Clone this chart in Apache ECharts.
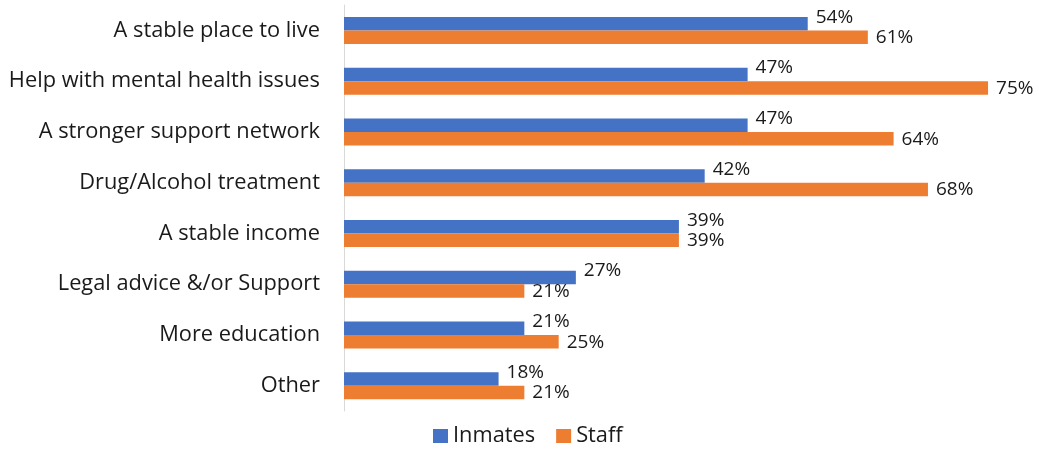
<!DOCTYPE html>
<html>
<head>
<meta charset="utf-8">
<script src="https://cdn.jsdelivr.net/npm/echarts@6/dist/echarts.min.js"></script>
<style>html,body{margin:0;padding:0;background:#fff}#c{width:1039px;height:449px}</style>
</head>
<body>
<div id="c"></div>
<script>
const categories = ["A stable place to live","Help with mental health issues","A stronger support network","Drug/Alcohol treatment","A stable income","Legal advice &/or Support","More education","Other"];
const inmates = [54,47,47,42,39,27,21,18];
const staff = [61,75,64,68,39,21,25,21];
const seriesNames = ["Inmates","Staff"];

const chart = echarts.init(document.getElementById('c'), null, {renderer:'canvas'});
const font = '"Open Sans", sans-serif';
const lbl = (dy) => ({show:true, position:'right', distance:8, offset:[0,dy], formatter:'{c}%', color:'#1a1a1a', fontSize:19, fontFamily:font});
chart.setOption({
  animation:false,
  grid:{left:344, right:8, top:5, bottom:38, containLabel:false},
  xAxis:{type:'value', min:0, max:80, show:false, splitLine:{show:false}},
  yAxis:{type:'category', data:categories, inverse:true,
    axisLine:{show:true, lineStyle:{color:'#d9d9d9', width:1}},
    axisTick:{show:false},
    axisLabel:{margin:24, color:'#1a1a1a', fontSize:21.8, fontFamily:font}},
  legend:{top:420, left:428, itemWidth:15, itemHeight:14, itemGap:21,
    icon:'rect', textStyle:{fontSize:21.8, fontFamily:font, color:'#1a1a1a'}},
  series:[
    {name:seriesNames[0], type:'bar', data:inmates, barWidth:13.5, barGap:'0%', itemStyle:{color:'#4472C4'}, label:lbl(-6.5)},
    {name:seriesNames[1], type:'bar', data:staff, barWidth:13.5, barGap:'0%', itemStyle:{color:'#ED7D31'}, label:lbl(0.5)}
  ]
});
</script>
</body>
</html>
